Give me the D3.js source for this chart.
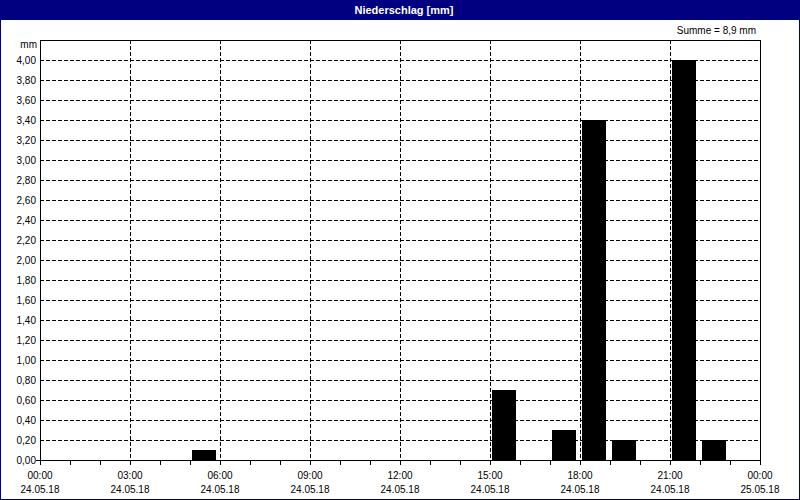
<!DOCTYPE html>
<html>
<head>
<meta charset="utf-8">
<script src="https://cdn.jsdelivr.net/npm/d3@7"></script>
<style>
html,body{margin:0;padding:0;background:#fff;}
svg{display:block;}
text{font-family:"Liberation Sans",Arial,sans-serif;font-size:10px;fill:#000;}
</style>
</head>
<body>
<svg id="chart" width="800" height="500"></svg>
<script>
// Data
const title = "Niederschlag [mm]";
const unitLabel = "mm";
const sumLabel = "Summe = 8,9 mm";
const hours = [5, 15, 17, 18, 19, 21, 22];          // start hour of each bar (24.05.18)
const values = [0.1, 0.7, 0.3, 3.4, 0.2, 4.0, 0.2]; // mm per hour
const xTickHours = [0, 3, 6, 9, 12, 15, 18, 21, 24];
const xTimeLabels = ["00:00","03:00","06:00","09:00","12:00","15:00","18:00","21:00","00:00"];
const xDateLabels = ["24.05.18","24.05.18","24.05.18","24.05.18","24.05.18","24.05.18","24.05.18","24.05.18","25.05.18"];
const yTicks = d3.range(0, 4.0001, 0.2);

const W = 800, H = 500;
const svg = d3.select("#chart");
const L = 40, R = 760, T = 40, B = 460;

const x = d3.scaleLinear().domain([0, 24]).range([L, R]);
const y = d3.scaleLinear().domain([0, 4.2]).range([B, T]);

// window frame
svg.append("rect").attr("x",0).attr("y",0).attr("width",W).attr("height",H).attr("fill","#000080");
svg.append("rect").attr("x",1).attr("y",20).attr("width",W-2).attr("height",H-21).attr("fill","#fff");
svg.append("text").attr("x",404).attr("y",14).attr("text-anchor","middle")
  .style("font-weight","bold").style("font-size","11px").style("fill","#fff").text(title);

// Summe
svg.append("text").attr("x",756).attr("y",34).attr("text-anchor","end").text(sumLabel);

// gridlines
const fmt = v => d3.format(".2f")(v).replace(".", ",");
svg.append("g").selectAll("line").data(yTicks.filter(v => v > 0.001)).join("line")
  .attr("x1", L).attr("x2", R)
  .attr("y1", d => Math.round(y(d)) + 0.5).attr("y2", d => Math.round(y(d)) + 0.5)
  .attr("stroke","#000").attr("stroke-dasharray","4,2").attr("shape-rendering","crispEdges");
svg.append("g").selectAll("line").data(xTickHours.filter(h => h > 0 && h < 24)).join("line")
  .attr("x1", d => Math.round(x(d)) + 0.5).attr("x2", d => Math.round(x(d)) + 0.5)
  .attr("y1", T).attr("y2", B)
  .attr("stroke","#000").attr("stroke-dasharray","4,2").attr("shape-rendering","crispEdges");

// bars
const barW = (x(1) - x(0)) * 0.8;
svg.append("g").selectAll("rect").data(hours).join("rect")
  .attr("x", d => Math.round(x(d)) + 2)
  .attr("y", (d, i) => Math.round(y(values[i])))
  .attr("width", Math.round(barW))
  .attr("height", (d, i) => Math.round(y(0)) - Math.round(y(values[i])))
  .attr("fill", "#000")
  .attr("shape-rendering","crispEdges");

// plot border
svg.append("rect").attr("x", L + 0.5).attr("y", T + 0.5).attr("width", R - L).attr("height", B - T)
  .attr("fill","none").attr("stroke","#000").attr("shape-rendering","crispEdges");

// y axis
const yAxis = d3.axisLeft(y).tickValues(yTicks).tickFormat(fmt).tickSize(0).tickPadding(4);
const gy = svg.append("g").attr("transform", `translate(${L},0)`).call(yAxis);
gy.select(".domain").remove();
gy.selectAll("text").style("font-family","Liberation Sans, Arial, sans-serif").style("font-size","10px");
svg.append("line").attr("x1", 36).attr("x2", L).attr("y1", B + 0.5).attr("y2", B + 0.5)
  .attr("stroke","#000").attr("shape-rendering","crispEdges");
svg.append("text").attr("x", 37).attr("y", 48).attr("text-anchor","end").text(unitLabel);

// x axis: hourly minor ticks + labels
const xAxis = d3.axisBottom(x).tickValues(d3.range(0, 25, 1)).tickFormat("").tickSize(4);
const gx = svg.append("g").attr("transform", `translate(0,${B + 0.5})`).call(xAxis);
gx.select(".domain").remove();
gx.selectAll("line").attr("shape-rendering","crispEdges");

svg.append("g").selectAll("text").data(xTickHours).join("text")
  .attr("x", d => x(d)).attr("y", 479).attr("text-anchor","middle")
  .text((d, i) => xTimeLabels[i]);
svg.append("g").selectAll("text").data(xTickHours).join("text")
  .attr("x", d => x(d)).attr("y", 493).attr("text-anchor","middle")
  .text((d, i) => xDateLabels[i]);
</script>
</body>
</html>
